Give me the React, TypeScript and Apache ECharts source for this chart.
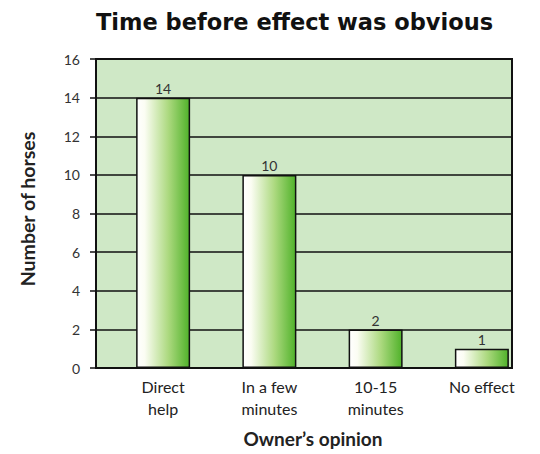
import React, { useEffect, useRef } from "react";
import * as echarts from "echarts";

const categories = ["Direct\nhelp", "In a few\nminutes", "10-15\nminutes", "No effect"];
const values = [14, 10, 2, 1];
const titleText = "Time before effect was obvious";
const yName = "Number of horses";
const xName = "Owner’s opinion";

export default function App() {
  const ref = useRef<HTMLDivElement>(null);
  useEffect(() => {
    if (!ref.current) return;
    const chart = echarts.init(ref.current, undefined, { renderer: "svg" });
    const font = "Lato, 'Open Sans', sans-serif";
    chart.setOption({
      animation: false,
      backgroundColor: "#ffffff",
      title: {
        text: titleText,
        left: 91,
        top: 5,
        textStyle: { fontFamily: "'DejaVu Sans', sans-serif", fontWeight: "bold", fontSize: 22.5, color: "#111" },
      },
      grid: [
        {
          left: 96, right: 28, top: 59, bottom: 86,
          show: true, backgroundColor: "#cfe8c6", borderColor: "#111", borderWidth: 2,
        },
        { left: 110, right: 5, top: 59, bottom: 86 },
      ],
      xAxis: [
        { gridIndex: 0, type: "value", show: false, min: 0, max: 1 },
        {
          gridIndex: 1, type: "category", data: categories,
          axisLine: { show: false }, axisTick: { show: false },
          axisLabel: { fontFamily: font, fontSize: 16, color: "#222", margin: 7, lineHeight: 22 },
        },
      ],
      yAxis: [
        {
          gridIndex: 0, type: "value", min: 0, max: 16, interval: 2,
          axisLine: { show: true, lineStyle: { color: "#111", width: 2 } },
          axisTick: { show: true, length: 6, lineStyle: { color: "#111", width: 1.5 } },
          axisLabel: { fontFamily: font, fontSize: 14, color: "#333", margin: 16 },
          splitLine: { show: true, lineStyle: { color: "#111", width: 1.5 } },
        },
        { gridIndex: 1, type: "value", min: 0, max: 16, show: false, splitLine: { show: false } },
      ],
      series: [
        {
          type: "bar", xAxisIndex: 1, yAxisIndex: 1, data: values, barWidth: 54,
          itemStyle: {
            borderColor: "#111", borderWidth: 1.5,
            color: new echarts.graphic.LinearGradient(0, 0, 1, 0, [
              { offset: 0, color: "#ffffff" },
              { offset: 0.15, color: "#fbfdf3" },
              { offset: 0.6, color: "#acd97f" },
              { offset: 1, color: "#50b22a" },
            ]),
          },
          label: { show: true, position: "top", distance: 2, fontFamily: font, fontSize: 14, color: "#333" },
        },
      ],
      graphic: [
        {
          type: "text", x: 27, y: 209, rotation: Math.PI / 2,
          style: {
            text: yName, fontFamily: font, fontWeight: "bold", fontSize: 19.5, fill: "#222",
            align: "center", verticalAlign: "middle",
          },
        },
        {
          type: "text", x: 313, y: 438,
          style: {
            text: xName, fontFamily: font, fontWeight: "bold", fontSize: 19, fill: "#222",
            align: "center", verticalAlign: "middle",
          },
        },
      ],
    });
    return () => chart.dispose();
  }, []);
  return (
    <div
      ref={ref}
      style={{ position: "absolute", left: 0, top: 0, width: 540, height: 454 }}
    />
  );
}
